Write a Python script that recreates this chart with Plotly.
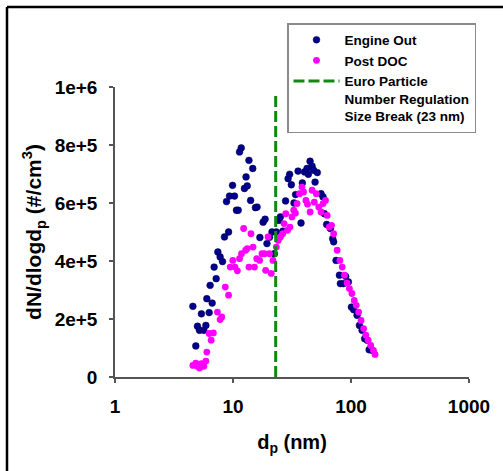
import plotly.graph_objects as go

# Engine Out (nm, #/cm3)
eo_x = [4.57, 4.84, 5.0, 5.2, 5.40, 5.66, 5.89, 6.0, 6.28, 6.40, 6.66, 6.92, 7.2, 7.44, 7.78,
        8.15, 8.47, 8.81, 9.17, 9.34, 9.91, 10.3, 10.7, 11.07, 11.36, 11.74, 12.5, 12.9, 13.2,
        13.65, 14.1, 14.7, 15.5, 16.0, 16.9, 18.0, 18.7, 19.4, 20.4, 21.4, 22.4, 23.3, 24.5,
        25.2, 26.5, 27.9, 29.3, 30.2, 31.2, 32.9, 33.9, 35.6, 37.7, 38.7, 40.4, 42.4, 43.5,
        45.0, 46.8, 48.2, 49.6, 51.8, 55.7, 58.0, 59.5, 62.2, 66.9, 70.0, 71.3, 74.7, 79.8,
        81.3, 86.2, 90.1, 95.0, 100.8, 105.4, 112.6, 117.9, 124.2, 130.7, 137, 142.5, 151]
eo_y = [243800, 107000, 175000, 161000, 218000, 161000, 178000, 270000, 222000, 316000,
        255000, 379000, 339000, 431000, 414000, 398000, 483000, 605000, 500000, 624000,
        661000, 624000, 575000, 575000, 776000, 790000, 650000, 690000, 659000, 747000,
        609000, 719000, 584000, 586000, 481000, 534000, 544000, 460000, 482000, 500000,
        425000, 500000, 540000, 552000, 503000, 607000, 684000, 699000, 663000, 600000,
        629000, 710000, 531000, 669000, 707000, 719000, 699000, 744000, 727000, 713000,
        672000, 705000, 632000, 621000, 563000, 526000, 512000, 477000, 466000, 402000,
        351000, 322000, 322000, 347000, 328000, 241000, 232000, 213000, 178000, 161000,
        132000, 127000, 94000, 92000]

# Post DOC
doc_x = [4.57, 4.84, 5.0, 5.2, 5.40, 5.66, 5.89, 6.0, 6.28, 6.53, 6.82, 7.38, 7.78, 8.03,
         8.60, 9.17, 9.47, 9.96, 10.4, 10.9, 11.36, 11.8, 12.3, 12.8, 13.2, 13.65, 14.2, 14.8,
         15.2, 15.9, 16.8, 17.6, 18.5, 18.9, 19.8, 20.4, 21.1, 21.8, 23.3, 24.2, 25.2, 26.4,
         27.1, 28.0, 29.0, 30.4, 31.6, 32.7, 33.8, 34.9, 36.6, 38.4, 39.6, 41.5, 42.8, 45.0,
         46.8, 48.9, 50.8, 53.3, 55.7, 58.0, 60.8, 62.8, 65.3, 68.4, 71.3, 76.3, 80.5, 84.2,
         88.1, 92.6, 96.9, 101.8, 106.5, 110.7, 116, 121.7, 128, 133.5, 139.6, 147, 155, 160]
doc_y = [40000, 48000, 37000, 31000, 46000, 37000, 55000, 86000, 150000, 127000, 152000,
         224000, 198000, 207000, 310000, 282000, 379000, 402000, 379000, 366000, 408000,
         425000, 512000, 437000, 443000, 379000, 494000, 448000, 379000, 408000, 402000,
         425000, 425000, 368000, 483000, 425000, 357000, 402000, 448000, 471000, 483000,
         494000, 529000, 563000, 506000, 517000, 552000, 575000, 565000, 598000, 632000,
         655000, 638000, 609000, 596000, 569000, 644000, 603000, 632000, 586000, 569000,
         598000, 609000, 557000, 517000, 523000, 494000, 437000, 402000, 379000, 351000,
         324000, 305000, 288000, 264000, 247000, 224000, 195000, 167000, 144000, 127000,
         109000, 92000, 78000]

# Euro particle number regulation size break
break_x = [23, 23]
break_y = [0, 970000]

x_tickvals = [1, 10, 100, 1000]
x_ticktext = ["1", "10", "100", "1000"]
y_tickvals = [0, 200000, 400000, 600000, 800000, 1000000]
y_ticktext = ["0", "2e+5", "4e+5", "6e+5", "8e+5", "1e+6"]

FONT = "Arial, Liberation Sans, sans-serif"

fig = go.Figure()
fig.add_trace(go.Scatter(x=eo_x, y=eo_y, mode="markers", name="Engine Out",
                         marker=dict(color="#00008B", size=6.8,
                                     line=dict(color="#000050", width=0.5))))
fig.add_trace(go.Scatter(x=doc_x, y=doc_y, mode="markers", name="Post DOC",
                         marker=dict(color="#FF00FF", size=6.8, line=dict(width=0))))
fig.add_trace(go.Scatter(x=break_x, y=break_y, mode="lines",
                         name="Euro Particle<br>Number Regulation<br>Size Break (23 nm)",
                         line=dict(color="#118811", width=3, dash="11px,4px")))

L, R, T, B = 115, 34, 87, 94
W, H = 503, 471
pw, ph = W - L - R, H - T - B


def px_x(px):
    return (px - L) / pw


def px_y(py):
    return (H - B - py) / ph


fig.update_layout(
    width=W, height=H,
    margin=dict(l=L, r=R, t=T, b=B, autoexpand=False),
    paper_bgcolor="white", plot_bgcolor="white",
    font=dict(family=FONT, color="black"),
    showlegend=True,
    legend=dict(x=px_x(287), y=px_y(23), xanchor="left", yanchor="top",
                bgcolor="white", bordercolor="#8a8a8a", borderwidth=1.5,
                font=dict(family=FONT, size=13.5, color="black", weight="bold"),
                itemwidth=46, valign="top", tracegroupgap=0),
    xaxis=dict(type="log", range=[0, 3], tickvals=x_tickvals, ticktext=x_ticktext,
               showgrid=False, zeroline=False, showline=True, linecolor="#555555",
               linewidth=1.5, ticks="outside", ticklen=4, tickcolor="#555555",
               tickwidth=1.5, ticklabelstandoff=7,
               tickfont=dict(family=FONT, size=19, weight="bold"),
               title=dict(text="d<sub>p</sub> (nm)", standoff=19,
                          font=dict(family=FONT, size=20, weight="bold"))),
    yaxis=dict(range=[0, 1000000], tickvals=y_tickvals, ticktext=y_ticktext,
               showgrid=False, zeroline=False, showline=True, linecolor="#555555",
               linewidth=1.5, ticks="outside", ticklen=4, tickcolor="#555555",
               tickwidth=1.5, ticklabelstandoff=8,
               tickfont=dict(family=FONT, size=19, weight="bold"),
               title=dict(text="dN/dlogd<sub>p</sub> (#/cm<sup>3</sup>)", standoff=7,
                          font=dict(family=FONT, size=21, weight="bold"))),
    shapes=[
        dict(type="line", xref="paper", yref="paper", x0=px_x(7), x1=px_x(520),
             y0=px_y(7), y1=px_y(7), line=dict(color="black", width=2.5)),
        dict(type="line", xref="paper", yref="paper", x0=px_x(7), x1=px_x(7),
             y0=px_y(7), y1=px_y(490), line=dict(color="black", width=2.5)),
    ],
)

fig.write_html("out.html", config={"displayModeBar": False},
               post_script="document.body.style.margin='0';document.body.style.overflow='hidden';")
